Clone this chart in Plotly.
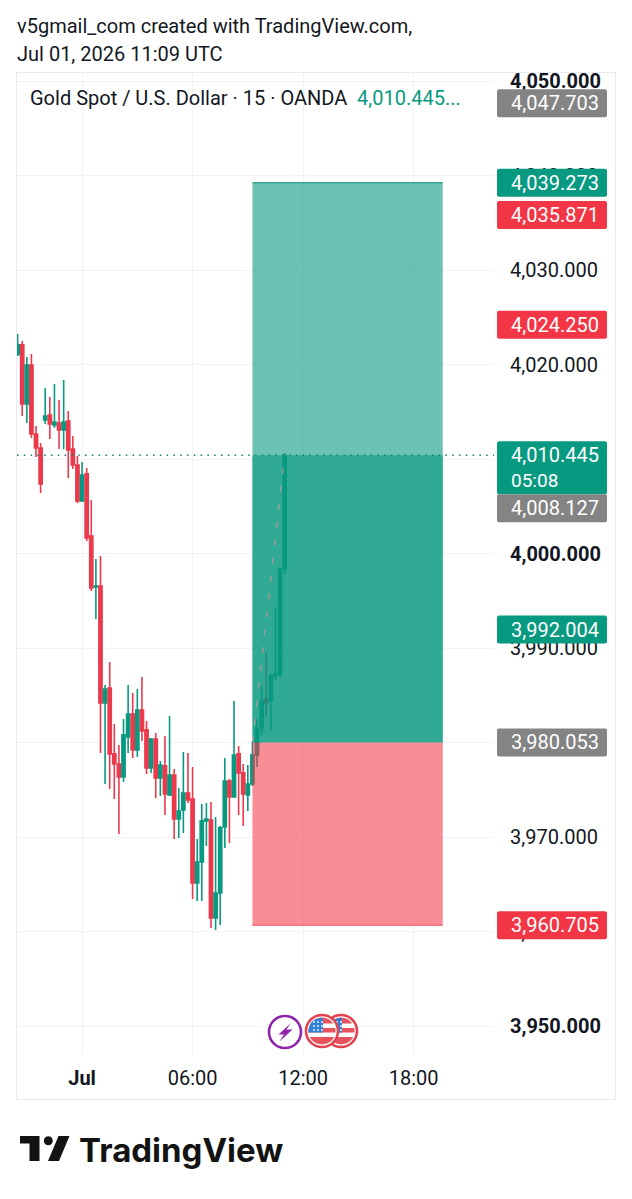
import math
import pandas as pd
import plotly.graph_objects as go

# 15-minute XAUUSD bars, starting 2026-06-30 20:30 UTC
opens = [4021.11, 4022.12, 4015.87, 4020.00, 4012.70, 4011.22, 4014.18, 4014.71, 4013.65, 4013.86, 4013.12, 4014.07, 4011.11, 4009.42, 4005.61, 4008.47, 4001.90,
         3996.51, 3996.61, 3984.23, 3985.82, 3978.84, 3977.78, 3976.40, 3980.63, 3983.07, 3979.26, 3983.49, 3981.38, 3977.35, 3980.42, 3976.30, 3977.57, 3974.50,
         3976.61, 3971.96, 3972.91, 3974.71, 3974.07, 3965.19, 3967.41, 3971.75, 3971.85, 3961.48, 3964.13, 3971.11, 3975.98, 3974.29, 3978.84, 3976.83, 3974.50,
         3975.66, 3978.73, 3981.59, 3984.66, 3984.44, 3987.09, 3987.30, 3998.41]
highs = [4023.28, 4022.54, 4020.85, 4021.16, 4013.54, 4011.75, 4017.57, 4016.61, 4017.99, 4016.30, 4018.41, 4015.13, 4012.49, 4010.37, 4009.74, 4009.10, 4005.71,
         3999.47, 3999.79, 3986.14, 3988.57, 3982.01, 3979.79, 3982.54, 3986.14, 3985.29, 3985.71, 3986.98, 3982.33, 3980.53, 3981.06, 3978.10, 3980.74, 3982.86,
         3977.25, 3975.24, 3979.05, 3978.94, 3977.46, 3969.84, 3973.54, 3973.65, 3973.76, 3972.17, 3971.22, 3978.41, 3976.19, 3984.44, 3979.68, 3977.78, 3977.67,
         3980.21, 3982.54, 3986.03, 3989.52, 3987.41, 3994.39, 3998.52, 4010.69]
lows = [4020.95, 4014.60, 4013.86, 4012.28, 4010.26, 4006.45, 4013.76, 4012.17, 4013.33, 4011.11, 4011.11, 4008.04, 4008.99, 4005.40, 4005.50, 4001.38, 3996.08,
        3993.12, 3978.94, 3975.66, 3975.13, 3974.07, 3970.37, 3975.87, 3978.94, 3978.41, 3978.52, 3980.21, 3976.72, 3976.83, 3974.18, 3974.39, 3972.38, 3974.39,
        3969.84, 3969.95, 3970.48, 3973.65, 3963.49, 3963.28, 3963.28, 3969.10, 3960.42, 3960.21, 3960.74, 3968.89, 3969.42, 3974.20, 3972.38, 3971.22, 3972.80,
        3975.45, 3977.46, 3980.74, 3982.86, 3981.27, 3986.67, 3986.88, 3997.88]
closes = [4022.12, 4015.87, 4020.00, 4012.70, 4011.22, 4007.41, 4014.60, 4013.76, 4013.97, 4013.12, 4013.97, 4011.01, 4009.42, 4005.61, 4008.36, 4001.69, 3996.40,
          3996.61, 3984.23, 3985.71, 3978.84, 3977.78, 3976.40, 3980.85, 3983.07, 3979.26, 3983.49, 3981.27, 3977.35, 3980.42, 3976.30, 3977.67, 3974.60, 3976.61,
          3971.96, 3972.80, 3974.71, 3973.97, 3965.19, 3967.41, 3971.75, 3971.96, 3961.48, 3964.13, 3971.01, 3975.98, 3974.29, 3978.73, 3976.83, 3974.60, 3975.66,
          3978.73, 3981.59, 3984.44, 3984.23, 3987.09, 3987.30, 3998.41, 4010.445]
bar_times = pd.date_range("2026-06-30 20:30", periods=len(opens), freq="15min")

# Long position tool
pos_start = "2026-07-01 09:15"
pos_end = "2026-07-01 19:35"
target_price = 4039.273
entry_price = 3980.053
stop_price = 3960.705
last_price = 4010.445
last_bar_time = "2026-07-01 11:00"

# Price scale and time scale
price_ticks = [4050, 4040, 4030, 4020, 4010, 4000, 3990, 3980, 3970, 3960, 3950]
bold_prices = [4050, 4000, 3950]
time_ticks = ["2026-07-01 00:00", "2026-07-01 06:00", "2026-07-01 12:00", "2026-07-01 18:00"]
time_labels = ["<b>Jul</b>", "06:00", "12:00", "18:00"]

# Tags on the price scale
GREY, TEAL, RED = "#848484", "#089981", "#f23645"
CANDLE_RED = "#ea3a4c"
tag_labels = ["4,047.703", "4,039.273", "4,035.871", "4,024.250", "4,010.445", "4,008.127", "3,992.004", "3,980.053", "3,960.705"]
tag_prices = [4047.703, 4039.273, 4035.871, 4024.250, 4010.445, 4008.127, 3992.004, 3980.053, 3960.705]
tag_colors = [GREY, TEAL, RED, RED, TEAL, GREY, TEAL, GREY, RED]
# The scale pushes a tag down when it would collide with the tag above it
tag_nudge = {4008.127: 31}

FONT = "Roboto"
INK = "#131722"
W, H = 632, 1199
L, R, T, B = 17, 494, 72, 1055


def px(x):
    return (x - L) / (R - L)


def py(y):
    return (B - y) / (B - T)


def page_shape(path, color):
    return dict(type="path", path=path, xref="paper", yref="paper", fillcolor=color, line_width=0, layer="above")


def poly(points):
    return "M" + " L".join(f"{px(x):.5f},{py(y):.5f}" for x, y in points) + " Z"


def disc(cx, cy, r, fill, line=None, lw=0):
    return dict(type="circle", xref="paper", yref="paper", x0=px(cx - r), x1=px(cx + r), y0=py(cy + r), y1=py(cy - r),
                fillcolor=fill, line=dict(color=line or fill, width=lw), layer="above")


def band(cx, cy, r, y1, y2, color, xmax=None):
    """Horizontal slice of a disc, optionally cut off on the right."""
    rows = [y1 + (y2 - y1) * i / 8 for i in range(9)]
    left, right = [], []
    for y in rows:
        half = math.sqrt(max(r * r - (y - cy) ** 2, 0))
        xr = cx + half if xmax is None else min(cx + half, xmax)
        left.append((cx - half, y))
        right.append((xr, y))
    return page_shape(poly(left + right[::-1]), color)


def flag(cx, cy):
    r = 13.5
    parts = [disc(cx, cy, 16, "#ffffff", "#e2434f", 2.6)]
    parts.append(band(cx, cy, r, cy - r, cy - 7.5, "#e8525c"))
    parts.append(band(cx, cy, r, cy - 3, cy + 1.5, "#e8525c"))
    parts.append(band(cx, cy, r, cy + 6, cy + r, "#e8525c"))
    parts.append(band(cx, cy, r, cy - r, cy + 1.5, "#2f7fd6", xmax=cx + 1))
    for dx in (-8, -4, 0):
        for dy in (-9, -5, -1):
            parts.append(disc(cx + dx, cy + dy, 0.9, "#ffffff"))
    return parts


def tag_box(price, color, top, bottom, width=110, radius=2):
    """Rounded tag, sized in pixels and anchored to a price."""
    path = (f"M{radius},{top} L{width - radius},{top} Q{width},{top} {width},{top - radius} "
            f"L{width},{bottom + radius} Q{width},{bottom} {width - radius},{bottom} "
            f"L{radius},{bottom} Q0,{bottom} 0,{bottom + radius} L0,{top - radius} Q0,{top} {radius},{top} Z")
    return dict(type="path", path=path, xref="paper", yref="y", xsizemode="pixel", xanchor=px(497),
                ysizemode="pixel", yanchor=price, fillcolor=color, line_width=0, layer="above")


fig = go.Figure(
    go.Candlestick(
        x=bar_times, open=opens, high=highs, low=lows, close=closes,
        increasing=dict(line=dict(color=TEAL, width=1.6), fillcolor=TEAL),
        decreasing=dict(line=dict(color=CANDLE_RED, width=1.6), fillcolor=CANDLE_RED),
        whiskerwidth=0, showlegend=False,
    )
)

shapes = [
    # Chart frame
    dict(type="rect", xref="paper", yref="paper", x0=px(16.5), x1=px(615.5), y0=py(1099.5), y1=py(72.5),
         line=dict(color="#e8eaf0", width=1), layer="below"),
    # Position tool: reward, open profit and risk zones
    dict(type="rect", x0=pos_start, x1=pos_end, y0=entry_price, y1=target_price,
         fillcolor="rgba(8,153,129,0.6)", line_width=0, layer="above"),
    dict(type="rect", x0=pos_start, x1=pos_end, y0=entry_price, y1=last_price,
         fillcolor="rgba(8,153,129,0.6)", line_width=0, layer="above"),
    dict(type="rect", x0=pos_start, x1=pos_end, y0=stop_price, y1=entry_price,
         fillcolor="rgba(242,54,69,0.57)", line_width=0, layer="above"),
    dict(type="line", x0=pos_start, x1=pos_end, y0=target_price, y1=target_price,
         line=dict(color="#3aa893", width=1.5), layer="above"),
    dict(type="line", x0=pos_start, x1=pos_end, y0=stop_price, y1=stop_price,
         line=dict(color="#f4727c", width=1.5), layer="above"),
    dict(type="line", x0=pos_start, x1=last_bar_time, y0=entry_price, y1=last_price,
         line=dict(color="rgba(235,150,150,0.6)", width=1.4, dash="6px,12px"), layer="above"),
    # Last price line
    dict(type="line", xref="paper", x0=0, x1=1, y0=last_price, y1=last_price,
         line=dict(color="#137f70", width=1.5, dash="1.5px,5.3px"), layer="above"),
]

annotations = []
for label, price, color in zip(tag_labels, tag_prices, tag_colors):
    nudge = tag_nudge.get(price, 0)
    below = 39 if price == last_price else 14
    shapes.append(tag_box(price, color, 14 - nudge, -below - nudge))
    annotations.append(dict(xref="paper", yref="y", x=px(509), y=price, yshift=-nudge, text=label, showarrow=False,
                            xanchor="left", yanchor="middle", font=dict(family=FONT, size=20, color="#ffffff")))
annotations.append(dict(xref="paper", yref="y", x=px(509), y=last_price, yshift=-25, text="05:08", showarrow=False,
                        xanchor="left", yanchor="middle", font=dict(family=FONT, size=19, color="#ffffff")))


def page_text(x, y, text, size, color=INK, family=FONT):
    annotations.append(dict(xref="paper", yref="paper", x=px(x), y=py(y), text=text, showarrow=False, xanchor="left",
                            yanchor="middle", font=dict(family=family, size=size, color=color)))


page_text(15, 26, "v5gmail_com created with TradingView.com,", 20)
page_text(15, 54, "Jul 01, 2026 11:09 UTC", 20)
page_text(28, 98, "Gold Spot / U.S. Dollar · 15 · OANDA", 20)
page_text(355, 98, "4,010.445...", 20, TEAL)
page_text(77, 1150, "<b>TradingView</b>", 33, "#131313", "Inter")

# Brand mark
shapes += [
    page_shape(poly([(20, 1136), (39.5, 1136), (39.5, 1161), (29.5, 1161), (29.5, 1143.5), (20, 1143.5)]), "#131313"),
    disc(48.3, 1140.7, 4.5, "#131313"),
    page_shape(poly([(58.5, 1136), (69.5, 1136), (59, 1161), (48, 1161)]), "#131313"),
]

# Economic event badges
shapes.append(disc(285, 1032, 16, "#ffffff", "#8e24aa", 2.6))
shapes.append(page_shape(poly([(290.5, 1023.5), (278.5, 1034.5), (284, 1034.5), (279.5, 1041.5), (292.5, 1029.5), (286.5, 1029.5)]), "#8e24aa"))
shapes += flag(341, 1031)
shapes += flag(322, 1031)

fig.update_layout(
    width=W, height=H, autosize=False,
    margin=dict(l=L, r=W - R, t=T, b=H - B, pad=0),
    paper_bgcolor="#ffffff", plot_bgcolor="#ffffff",
    boxgap=0.02,
    shapes=shapes, annotations=annotations, showlegend=False,
    xaxis=dict(
        type="date", range=["2026-06-30 20:28", "2026-07-01 22:22"], rangeslider=dict(visible=False),
        tickmode="array", tickvals=time_ticks, ticktext=time_labels,
        tickfont=dict(family=FONT, size=20, color=INK), ticks="", ticklabelstandoff=9,
        showgrid=True, gridcolor="#f1f3f8", gridwidth=1, zeroline=False, showline=False,
    ),
    yaxis=dict(
        side="right", range=[3946.98, 4051.00],
        tickmode="array", tickvals=price_ticks,
        ticktext=[f"<b>{p:,.3f}</b>" if p in bold_prices else f"{p:,.3f}" for p in price_ticks],
        tickfont=dict(family=FONT, size=20, color=INK), ticks="", ticklabelstandoff=15,
        showgrid=True, gridcolor="#f1f3f8", gridwidth=1, zeroline=False, showline=False,
    ),
)

fig.write_html("out.html", config=dict(displayModeBar=False))
